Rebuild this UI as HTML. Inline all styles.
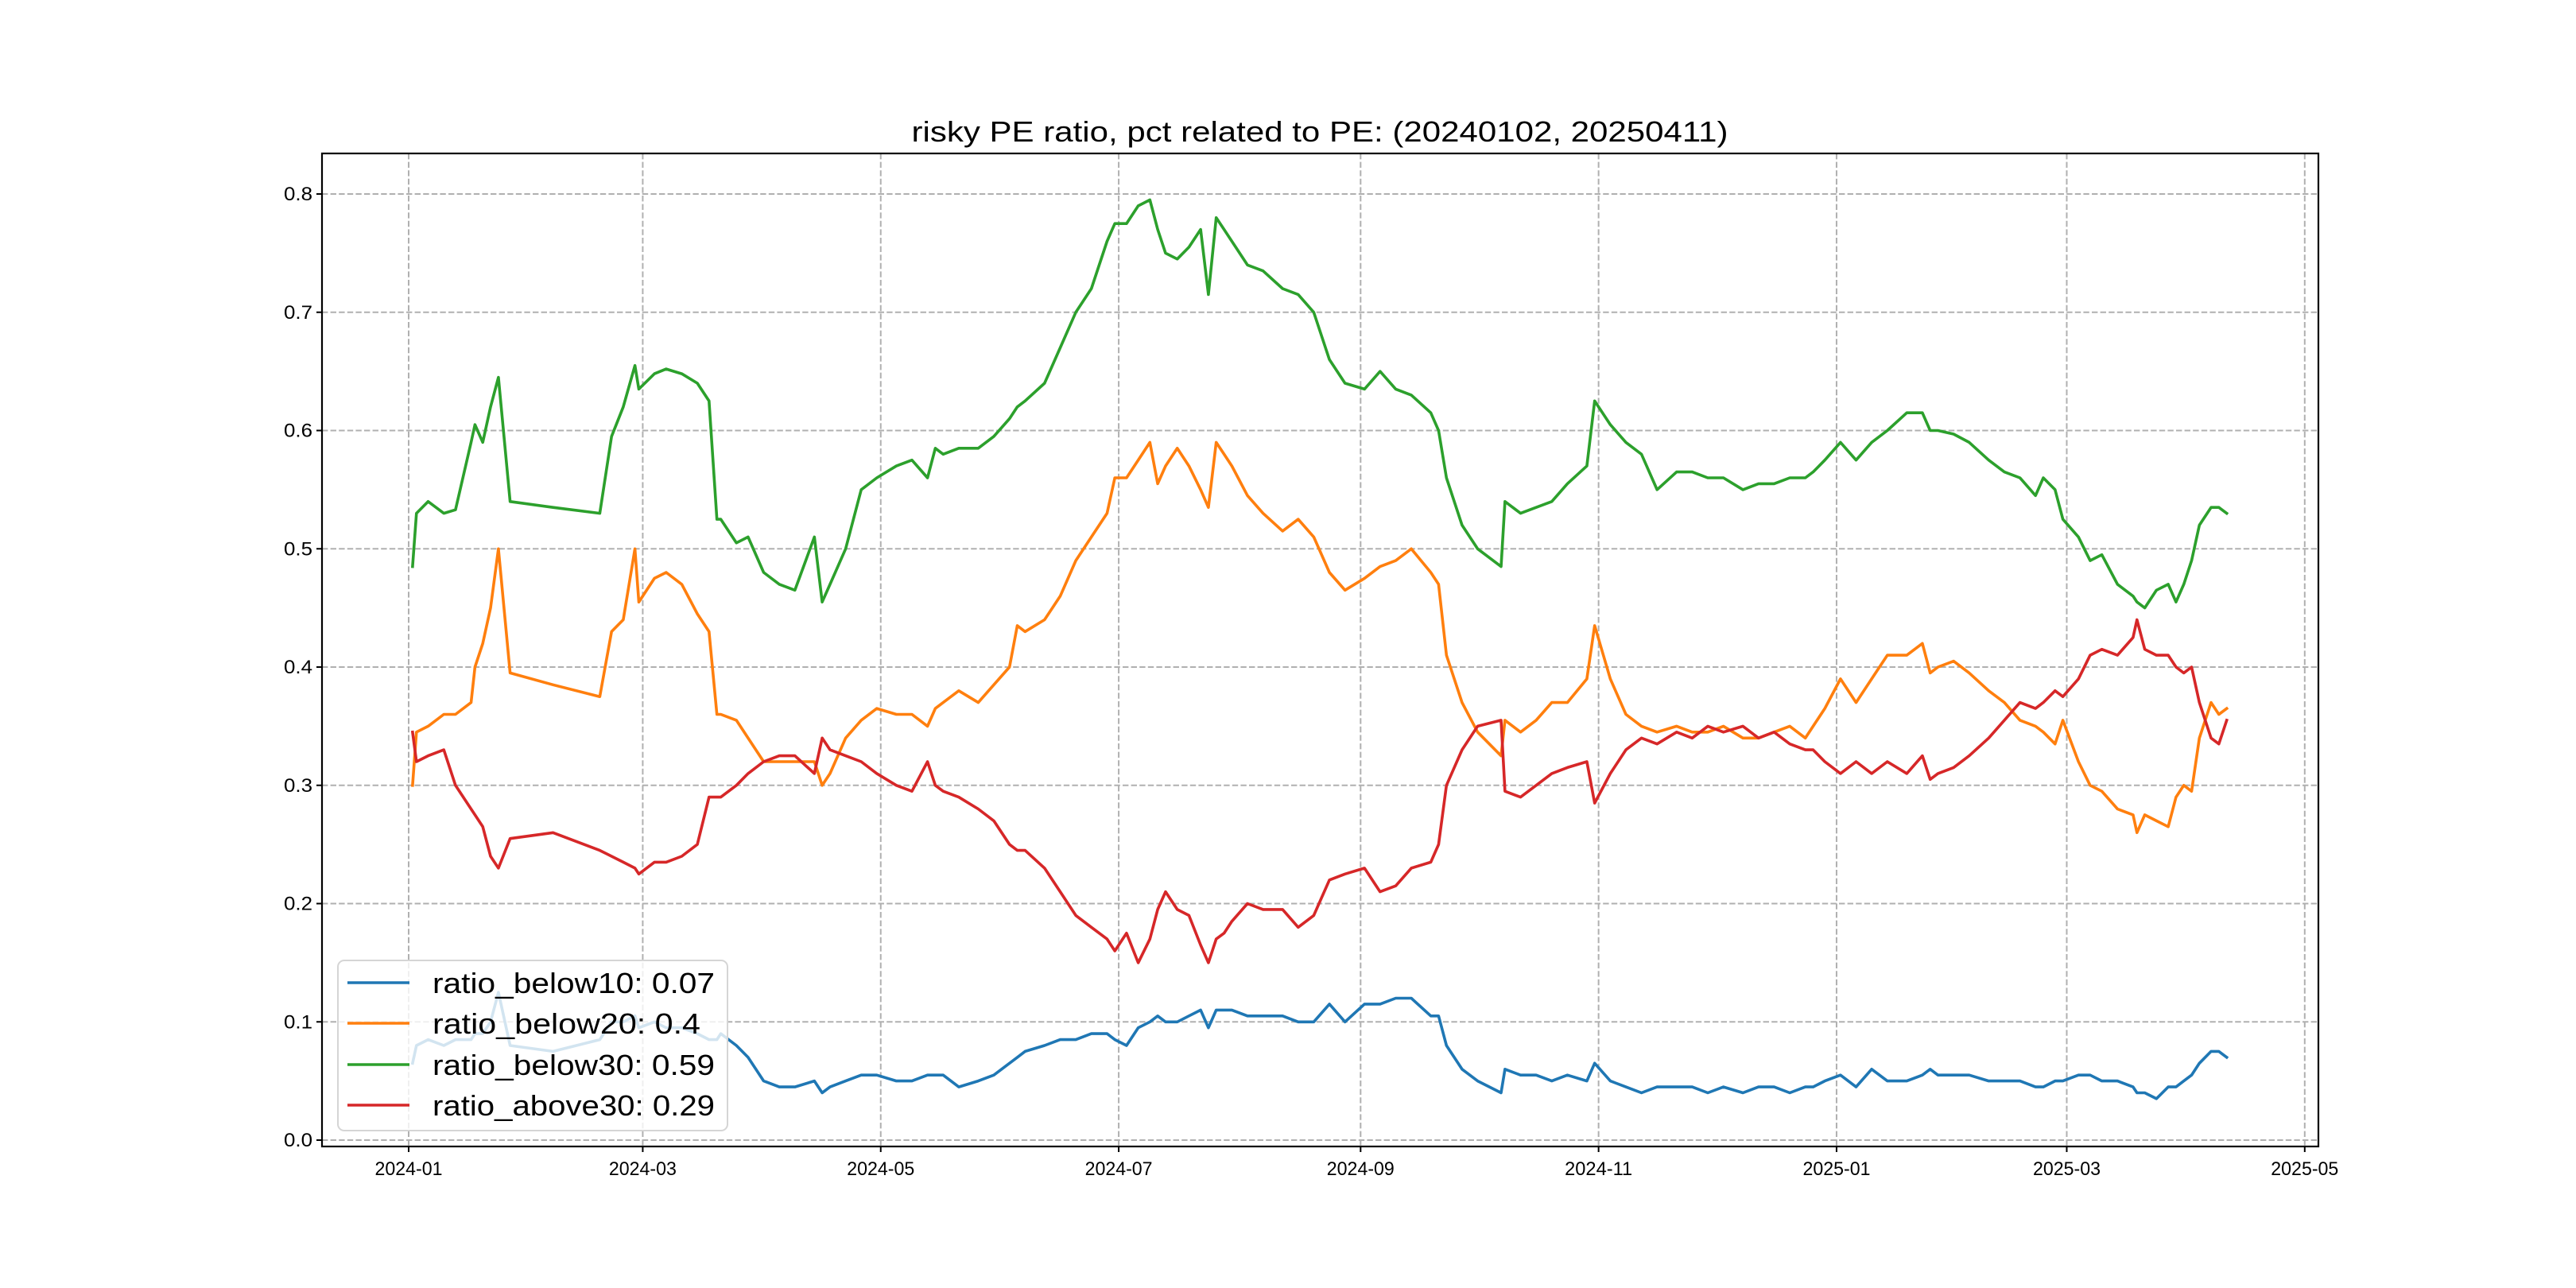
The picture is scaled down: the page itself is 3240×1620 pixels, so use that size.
<!DOCTYPE html>
<html><head><meta charset="utf-8"><style>
html,body{margin:0;padding:0;background:#fff}
svg{display:block}
text{font-family:"Liberation Sans","Noto Sans CJK SC","WenQuanYi Zen Hei",sans-serif;fill:#000}
</style></head><body>
<svg id="chart" xmlns="http://www.w3.org/2000/svg" width="3240" height="1620" viewBox="0 0 3240 1620">
<rect x="0" y="0" width="3240" height="1620" fill="#fff"/>
<text x="1660" y="178" text-anchor="middle" font-size="36" textLength="1027" lengthAdjust="spacingAndGlyphs">risky PE ratio, pct related to PE: (20240102, 20250411)</text>
<g id="grid"></g>
<g id="series"></g>
<rect x="405" y="193" width="2511" height="1249" fill="none" stroke="#000" stroke-width="2.2"/>
<g id="axes"></g>
<g id="legend"></g>
</svg>
<script>
const dates = [
'2024-01-02','2024-01-03','2024-01-06','2024-01-10','2024-01-13','2024-01-17','2024-01-18','2024-01-20','2024-01-22','2024-01-24','2024-01-27',
'2024-02-07','2024-02-19','2024-02-22','2024-02-25','2024-02-28','2024-02-29',
'2024-03-04','2024-03-07','2024-03-11','2024-03-15','2024-03-18','2024-03-20','2024-03-21','2024-03-25','2024-03-28',
'2024-04-01','2024-04-05','2024-04-09','2024-04-14','2024-04-16','2024-04-18','2024-04-22','2024-04-26','2024-04-30',
'2024-05-05','2024-05-09','2024-05-13','2024-05-15','2024-05-17','2024-05-21','2024-05-26','2024-05-30',
'2024-06-03','2024-06-05','2024-06-07','2024-06-12','2024-06-16','2024-06-20','2024-06-24','2024-06-28','2024-06-30',
'2024-07-03','2024-07-06','2024-07-09','2024-07-11','2024-07-13','2024-07-16','2024-07-19','2024-07-22','2024-07-24','2024-07-26','2024-07-28','2024-07-30',
'2024-08-03','2024-08-07','2024-08-12','2024-08-16','2024-08-20','2024-08-24','2024-08-28',
'2024-09-02','2024-09-06','2024-09-10','2024-09-14','2024-09-19','2024-09-21','2024-09-23','2024-09-27',
'2024-10-01','2024-10-07','2024-10-08','2024-10-12','2024-10-16','2024-10-20','2024-10-24','2024-10-29','2024-10-31',
'2024-11-04','2024-11-08','2024-11-12','2024-11-16','2024-11-21','2024-11-25','2024-11-29',
'2024-12-03','2024-12-08','2024-12-12','2024-12-16','2024-12-20','2024-12-24','2024-12-26','2024-12-29',
'2025-01-02','2025-01-06','2025-01-10','2025-01-14','2025-01-19','2025-01-23','2025-01-25','2025-01-27','2025-01-31',
'2025-02-04','2025-02-09','2025-02-13','2025-02-17','2025-02-21','2025-02-23','2025-02-26','2025-02-28',
'2025-03-04','2025-03-07','2025-03-10','2025-03-14','2025-03-18','2025-03-19','2025-03-21','2025-03-24','2025-03-27','2025-03-29','2025-03-31',
'2025-04-02','2025-04-04','2025-04-07','2025-04-09','2025-04-11'];

const below10 = [.065,.08,.085,.08,.085,.085,.09,.09,.10,.125,.08,
.075,.085,.10,.10,.105,.095,
.10,.095,.095,.09,.085,.085,.09,.08,.07,
.05,.045,.045,.05,.04,.045,.05,.055,.055,
.05,.05,.055,.055,.055,.045,.05,.055,
.065,.07,.075,.08,.085,.085,.09,.09,.085,
.08,.095,.10,.105,.10,.10,.105,.11,.095,.11,.11,.11,
.105,.105,.105,.10,.10,.115,.10,
.115,.115,.12,.12,.105,.105,.08,.06,
.05,.04,.06,.055,.055,.05,.055,.05,.065,
.05,.045,.04,.045,.045,.045,.04,
.045,.04,.045,.045,.04,.045,.045,.05,
.055,.045,.06,.05,.05,.055,.06,.055,.055,
.055,.05,.05,.05,.045,.045,.05,.05,
.055,.055,.05,.05,.045,.04,.04,.035,.045,.045,.05,
.055,.065,.075,.075,.07];

const below20 = [.30,.345,.35,.36,.36,.37,.40,.42,.45,.50,.395,
.385,.375,.43,.44,.50,.455,
.475,.48,.47,.445,.43,.36,.36,.355,.34,
.32,.32,.32,.32,.30,.31,.34,.355,.365,
.36,.36,.35,.365,.37,.38,.37,.385,
.40,.435,.43,.44,.46,.49,.51,.53,.56,
.56,.575,.59,.555,.57,.585,.57,.55,.535,.59,.58,.57,
.545,.53,.515,.525,.51,.48,.465,
.475,.485,.49,.50,.48,.47,.41,.37,
.345,.325,.355,.345,.355,.37,.37,.39,.435,
.39,.36,.35,.345,.35,.345,.345,
.35,.34,.34,.345,.35,.34,.35,.365,
.39,.37,.39,.41,.41,.42,.395,.40,.405,
.395,.38,.37,.355,.35,.345,.335,.355,
.32,.30,.295,.28,.275,.26,.275,.27,.265,.29,.30,
.295,.34,.37,.36,.365];

const below30 = [.485,.53,.54,.53,.533,.59,.605,.59,.62,.645,.54,
.535,.53,.595,.62,.655,.635,
.648,.652,.648,.64,.625,.525,.525,.505,.51,
.48,.47,.465,.51,.455,.47,.50,.55,.56,
.57,.575,.56,.585,.58,.585,.585,.595,
.61,.62,.625,.64,.67,.70,.72,.76,.775,
.775,.79,.795,.77,.75,.745,.755,.77,.715,.78,.77,.76,
.74,.735,.72,.715,.70,.66,.64,
.635,.65,.635,.63,.615,.60,.56,.52,
.50,.485,.54,.53,.535,.54,.555,.57,.625,
.605,.59,.58,.55,.565,.565,.56,
.56,.55,.555,.555,.56,.56,.565,.575,
.59,.575,.59,.60,.615,.615,.60,.60,.597,
.59,.575,.565,.56,.545,.56,.55,.525,
.51,.49,.495,.47,.46,.455,.45,.465,.47,.455,.47,
.49,.52,.535,.535,.53];

const above30 = [.345,.32,.325,.33,.30,.28,.275,.265,.24,.23,.255,
.26,.245,.24,.235,.23,.225,
.235,.235,.24,.25,.29,.29,.29,.30,.31,
.32,.325,.325,.31,.34,.33,.325,.32,.31,
.30,.295,.32,.30,.295,.29,.28,.27,
.25,.245,.245,.23,.21,.19,.18,.17,.16,
.175,.15,.17,.195,.21,.195,.19,.165,.15,.17,.175,.185,
.20,.195,.195,.18,.19,.22,.225,
.23,.21,.215,.23,.235,.25,.30,.33,
.35,.355,.295,.29,.30,.31,.315,.32,.285,
.31,.33,.34,.335,.345,.34,.35,
.345,.35,.34,.345,.335,.33,.33,.32,
.31,.32,.31,.32,.31,.325,.305,.31,.315,
.325,.34,.355,.37,.365,.37,.38,.375,
.39,.41,.415,.41,.425,.44,.415,.41,.41,.40,.395,
.40,.37,.34,.335,.355];

const yTicks = [0.0,0.1,0.2,0.3,0.4,0.5,0.6,0.7,0.8];
const yTickLabels = ['0.0','0.1','0.2','0.3','0.4','0.5','0.6','0.7','0.8'];
const xTicks = ['2024-01-01','2024-03-01','2024-05-01','2024-07-01','2024-09-01','2024-11-01','2025-01-01','2025-03-01','2025-05-01'];
const xTickLabels = ['2024-01','2024-03','2024-05','2024-07','2024-09','2024-11','2025-01','2025-03','2025-05'];
const legendLabels = ['ratio_below10: 0.07','ratio_below20: 0.4','ratio_below30: 0.59','ratio_above30: 0.29'];

const NS='http://www.w3.org/2000/svg';
const T0=Date.UTC(2024,0,1);
function xScale(s){const p=s.split('-');const d=(Date.UTC(+p[0],+p[1]-1,+p[2])-T0)/86400000;return 514+d*4.907;}
function yScale(v){return 1434-v*1487.5;}
function mk(tag,attrs,parent){const e=document.createElementNS(NS,tag);for(const k in attrs)e.setAttribute(k,attrs[k]);parent.appendChild(e);return e;}

const grid=document.getElementById('grid'),axes=document.getElementById('axes'),ser=document.getElementById('series'),leg=document.getElementById('legend');
const L=405,R=2916,TOP=193,B=1442;
yTicks.forEach((v,i)=>{
  const y=yScale(v);
  const g=mk('line',{x1:L,x2:R,y1:y,y2:y,stroke:'#b0b0b0','stroke-width':2,'stroke-dasharray':'7.4 3.2'},grid);
  
  
  const t=mk('line',{x1:L-7,x2:L,y1:y,y2:y,stroke:'#000','stroke-width':2},axes);
  
  
  const tx=mk('text',{x:L-12,y:y+8,'text-anchor':'end','font-size':24,textLength:36,lengthAdjust:'spacingAndGlyphs'},axes);
  tx.textContent=yTickLabels[i];
  
  
});
xTicks.forEach((d,i)=>{
  const x=xScale(d);
  const g=mk('line',{x1:x,x2:x,y1:TOP,y2:B,stroke:'#b0b0b0','stroke-width':2,'stroke-dasharray':'7.4 3.2'},grid);
  
  
  const t=mk('line',{x1:x,x2:x,y1:B,y2:B+7,stroke:'#000','stroke-width':2},axes);
  
  
  const tx=mk('text',{x:x,y:B+36,'text-anchor':'middle','font-size':24,textLength:85,lengthAdjust:'spacingAndGlyphs'},axes);
  tx.textContent=xTickLabels[i];
  
  
});
const seriesList=[[below10,'#1f77b4','line-ratio-below10'],[below20,'#ff7f0e','line-ratio-below20'],[below30,'#2ca02c','line-ratio-below30'],[above30,'#d62728','line-ratio-above30']];
seriesList.forEach(s=>{
  const n=Math.min(dates.length,s[0].length);
  let d='';
  for(let i=0;i<n;i++){d+=(i?'L':'M')+xScale(dates[i]).toFixed(1)+' '+yScale(s[0][i]).toFixed(1);}
  const p=mk('path',{d:d,fill:'none',stroke:s[1],'stroke-width':3.6,'stroke-linejoin':'round','stroke-linecap':'square'},ser);
  
  
});
const box=mk('rect',{x:425,y:1208,width:490,height:214,rx:8,fill:'rgba(255,255,255,0.8)',stroke:'#d5d5d5','stroke-width':2},leg);


const rowsY=[1236,1287,1339,1390];
legendLabels.forEach((lab,i)=>{
  const y=rowsY[i];
  const ln=mk('line',{x1:437,x2:515,y1:y,y2:y,stroke:seriesList[i][1],'stroke-width':3.6},leg);
  
  
  const tx=mk('text',{x:544,y:y+13,'font-size':36,textLength:(lab.length*18.7).toFixed(0),lengthAdjust:'spacingAndGlyphs'},leg);
  tx.textContent=lab;
  
  
});
</script>
</body></html>
